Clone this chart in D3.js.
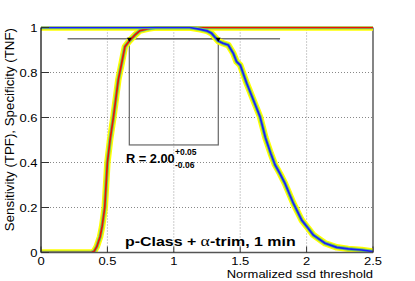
<!DOCTYPE html>
<html>
<head>
<meta charset="utf-8">
<script src="https://cdn.jsdelivr.net/npm/d3@7"></script>
<style>
  body { margin: 0; background: #fff; }
  text { font-family: "Liberation Sans", Arial, Helvetica, sans-serif; }
</style>
</head>
<body>
<div id="chart"></div>
<script>
// ROC-style threshold scan: sensitivity rises, specificity falls

const xTicks = [0, 0.5, 1, 1.5, 2, 2.5];
const yTicks = [0, 0.2, 0.4, 0.6, 0.8, 1];
const xTickLabels = ["0", "0.5", "1", "1.5", "2", "2.5"];
const yTickLabels = ["0", "0.2", "0.4", "0.6", "0.8", "1"];

// sensitivity (TPF) vs threshold
const sensX = [0, 0.38, 0.40, 0.42, 0.445, 0.46, 0.48, 0.50, 0.52, 0.545, 0.565, 0.582, 0.607, 0.632, 0.665, 0.708, 0.745, 0.808, 0.86, 2.5];
const sensY = [0, 0, 0.005, 0.026, 0.07, 0.115, 0.2, 0.4, 0.5, 0.6, 0.69, 0.767, 0.84, 0.915, 0.94, 0.967, 0.986, 0.995, 1.0, 1.0];

// specificity (TNF) vs threshold
const specX = [0, 1.12, 1.2, 1.25, 1.285, 1.335, 1.37, 1.41, 1.448, 1.473, 1.5, 1.549, 1.599, 1.649, 1.69, 1.73, 1.762, 1.8, 1.837, 1.9, 1.963, 2.013, 2.05, 2.076, 2.139, 2.227, 2.314, 2.415, 2.5];
const specY = [1, 1, 0.992, 0.985, 0.974, 0.94, 0.93, 0.922, 0.885, 0.848, 0.833, 0.752, 0.678, 0.604, 0.51, 0.44, 0.39, 0.35, 0.307, 0.219, 0.144, 0.107, 0.078, 0.067, 0.041, 0.023, 0.016, 0.011, 0.004];

// working point box
const cutLevel = 0.95;
const cutSpan = [0.2, 1.8];
const cutPoints = [0.665, 1.335];
const boxBottom = 0.478;

const W = 415, H = 281;
const sx = 1.18; // text is a bit wider than tall in the original

const x = d3.scaleLinear().domain([0, 2.5]).range([41, 373]);
const y = d3.scaleLinear().domain([0, 1]).range([252.5, 27.5]);

const svg = d3.select("#chart").append("svg")
  .attr("width", W).attr("height", H);

function label(px, py, str, opts = {}) {
  const tf = opts.rotate ? "rotate(-90)" : (opts.noStretch ? "" : "scale(" + sx + ",1)");
  const t = svg.append("text")
    .attr("transform", `translate(${px},${py}) ${tf}`)
    .attr("font-size", opts.size || 11)
    .attr("font-weight", opts.weight || "normal")
    .attr("text-anchor", opts.anchor || "start")
    .attr("fill", "#000");
  t.text(str);
  return t;
}

// grid
svg.append("g").selectAll("line").data(xTicks.slice(1, -1)).join("line")
  .attr("x1", d => x(d)).attr("x2", d => x(d))
  .attr("y1", y(0)).attr("y2", y(1))
  .attr("stroke", "#999").attr("stroke-width", 1).attr("stroke-dasharray", "1,2");
svg.append("g").selectAll("line").data(yTicks.slice(1, -1)).join("line")
  .attr("x1", x(0)).attr("x2", x(2.5))
  .attr("y1", d => y(d)).attr("y2", d => y(d))
  .attr("stroke", "#888").attr("stroke-width", 1).attr("stroke-dasharray", "1,2");

// working point lines
svg.append("line")
  .attr("x1", x(cutSpan[0])).attr("x2", x(cutSpan[1]))
  .attr("y1", y(cutLevel)).attr("y2", y(cutLevel))
  .attr("stroke", "#777").attr("stroke-width", 1.6);
svg.append("rect")
  .attr("x", x(cutPoints[0])).attr("y", y(cutLevel))
  .attr("width", x(cutPoints[1]) - x(cutPoints[0]))
  .attr("height", y(boxBottom) - y(cutLevel))
  .attr("fill", "none").attr("stroke", "#666").attr("stroke-width", 1.2);

// frame
svg.append("line").attr("x1", x(2.5)).attr("x2", x(2.5)).attr("y1", y(0)).attr("y2", y(1))
  .attr("stroke", "#333").attr("stroke-width", 1.2);
svg.append("line").attr("x1", x(0)).attr("x2", x(2.5)).attr("y1", y(1)).attr("y2", y(1))
  .attr("stroke", "#333").attr("stroke-width", 1);

// curves
svg.append("defs").append("clipPath").attr("id", "plotclip")
  .append("rect").attr("x", x(0)).attr("y", y(1) - 1)
  .attr("width", x(2.5) - x(0)).attr("height", y(0) - y(1) + 1);

const line = d3.line().x(d => x(d[0])).y(d => y(d[1]));
const sens = d3.zip(sensX, sensY);
const spec = d3.zip(specX, specY);

const curves = svg.append("g").attr("clip-path", "url(#plotclip)");
[sens, spec].forEach(pts => {
  curves.append("path").attr("d", line(pts)).attr("fill", "none")
    .attr("stroke", "#ffff00").attr("stroke-width", 6.5).attr("stroke-linejoin", "round");
});
[[sens, "#ee1100"], [spec, "#1a1aff"]].forEach(([pts, col]) => {
  curves.append("path").attr("d", line(pts)).attr("fill", "none")
    .attr("stroke", "#6cc46c").attr("stroke-width", 3.6).attr("stroke-linejoin", "round");
  curves.append("path").attr("d", line(pts)).attr("fill", "none")
    .attr("stroke", col).attr("stroke-width", 1.7).attr("stroke-linejoin", "round");
});

// markers at the crossing points
svg.append("g").selectAll("path").data(cutPoints).join("path")
  .attr("d", d => `M${x(d) - 2.5},${y(cutLevel) - 1}L${x(d) + 2.5},${y(cutLevel) - 1}L${x(d)},${y(cutLevel) + 3}Z`)
  .attr("fill", "#000");

// axes
svg.append("line").attr("x1", x(0)).attr("x2", x(0)).attr("y1", y(0)).attr("y2", y(1))
  .attr("stroke", "#000").attr("stroke-width", 1.2);
svg.append("line").attr("x1", x(0)).attr("x2", x(2.5)).attr("y1", y(0)).attr("y2", y(0))
  .attr("stroke", "#555").attr("stroke-width", 1.5);
svg.append("g").selectAll("line").data(yTicks).join("line")
  .attr("x1", x(0)).attr("x2", x(0) + 8)
  .attr("y1", d => y(d)).attr("y2", d => y(d))
  .attr("stroke", "#333").attr("stroke-width", 1);
svg.append("g").selectAll("line").data(xTicks).join("line")
  .attr("x1", d => x(d)).attr("x2", d => x(d))
  .attr("y1", y(0)).attr("y2", y(0) - 6)
  .attr("stroke", "#333").attr("stroke-width", 1);

xTicks.forEach((d, i) => label(x(d), 265, xTickLabels[i], { anchor: "middle" }));
yTicks.forEach((d, i) => label(37.5, y(d) + 4, yTickLabels[i], { anchor: "end" }));

// titles
label(373, 278, "Normalized ssd threshold", { anchor: "end" });
label(14, 28, "Sensitivity (TPF),  Specificity (TNF)", { anchor: "end", rotate: true, size: 13.3 });

const title = svg.append("text")
  .attr("transform", `translate(125,246) scale(${sx},1)`)
  .attr("font-size", 13.5).attr("font-weight", "bold");
title.append("tspan").text("p-Class + ");
title.append("tspan").attr("font-family", "'Liberation Serif', serif")
  .attr("font-weight", "normal").attr("font-size", 15).text("α");
title.append("tspan").text("-trim, 1 min");

label(126, 163, "R = 2.00", { size: 12.8, weight: "bold", noStretch: true });
label(175, 154.5, "+0.05", { size: 8.5, weight: "bold", noStretch: true });
label(175, 168, "-0.06", { size: 8.5, weight: "bold", noStretch: true });
</script>
</body>
</html>
